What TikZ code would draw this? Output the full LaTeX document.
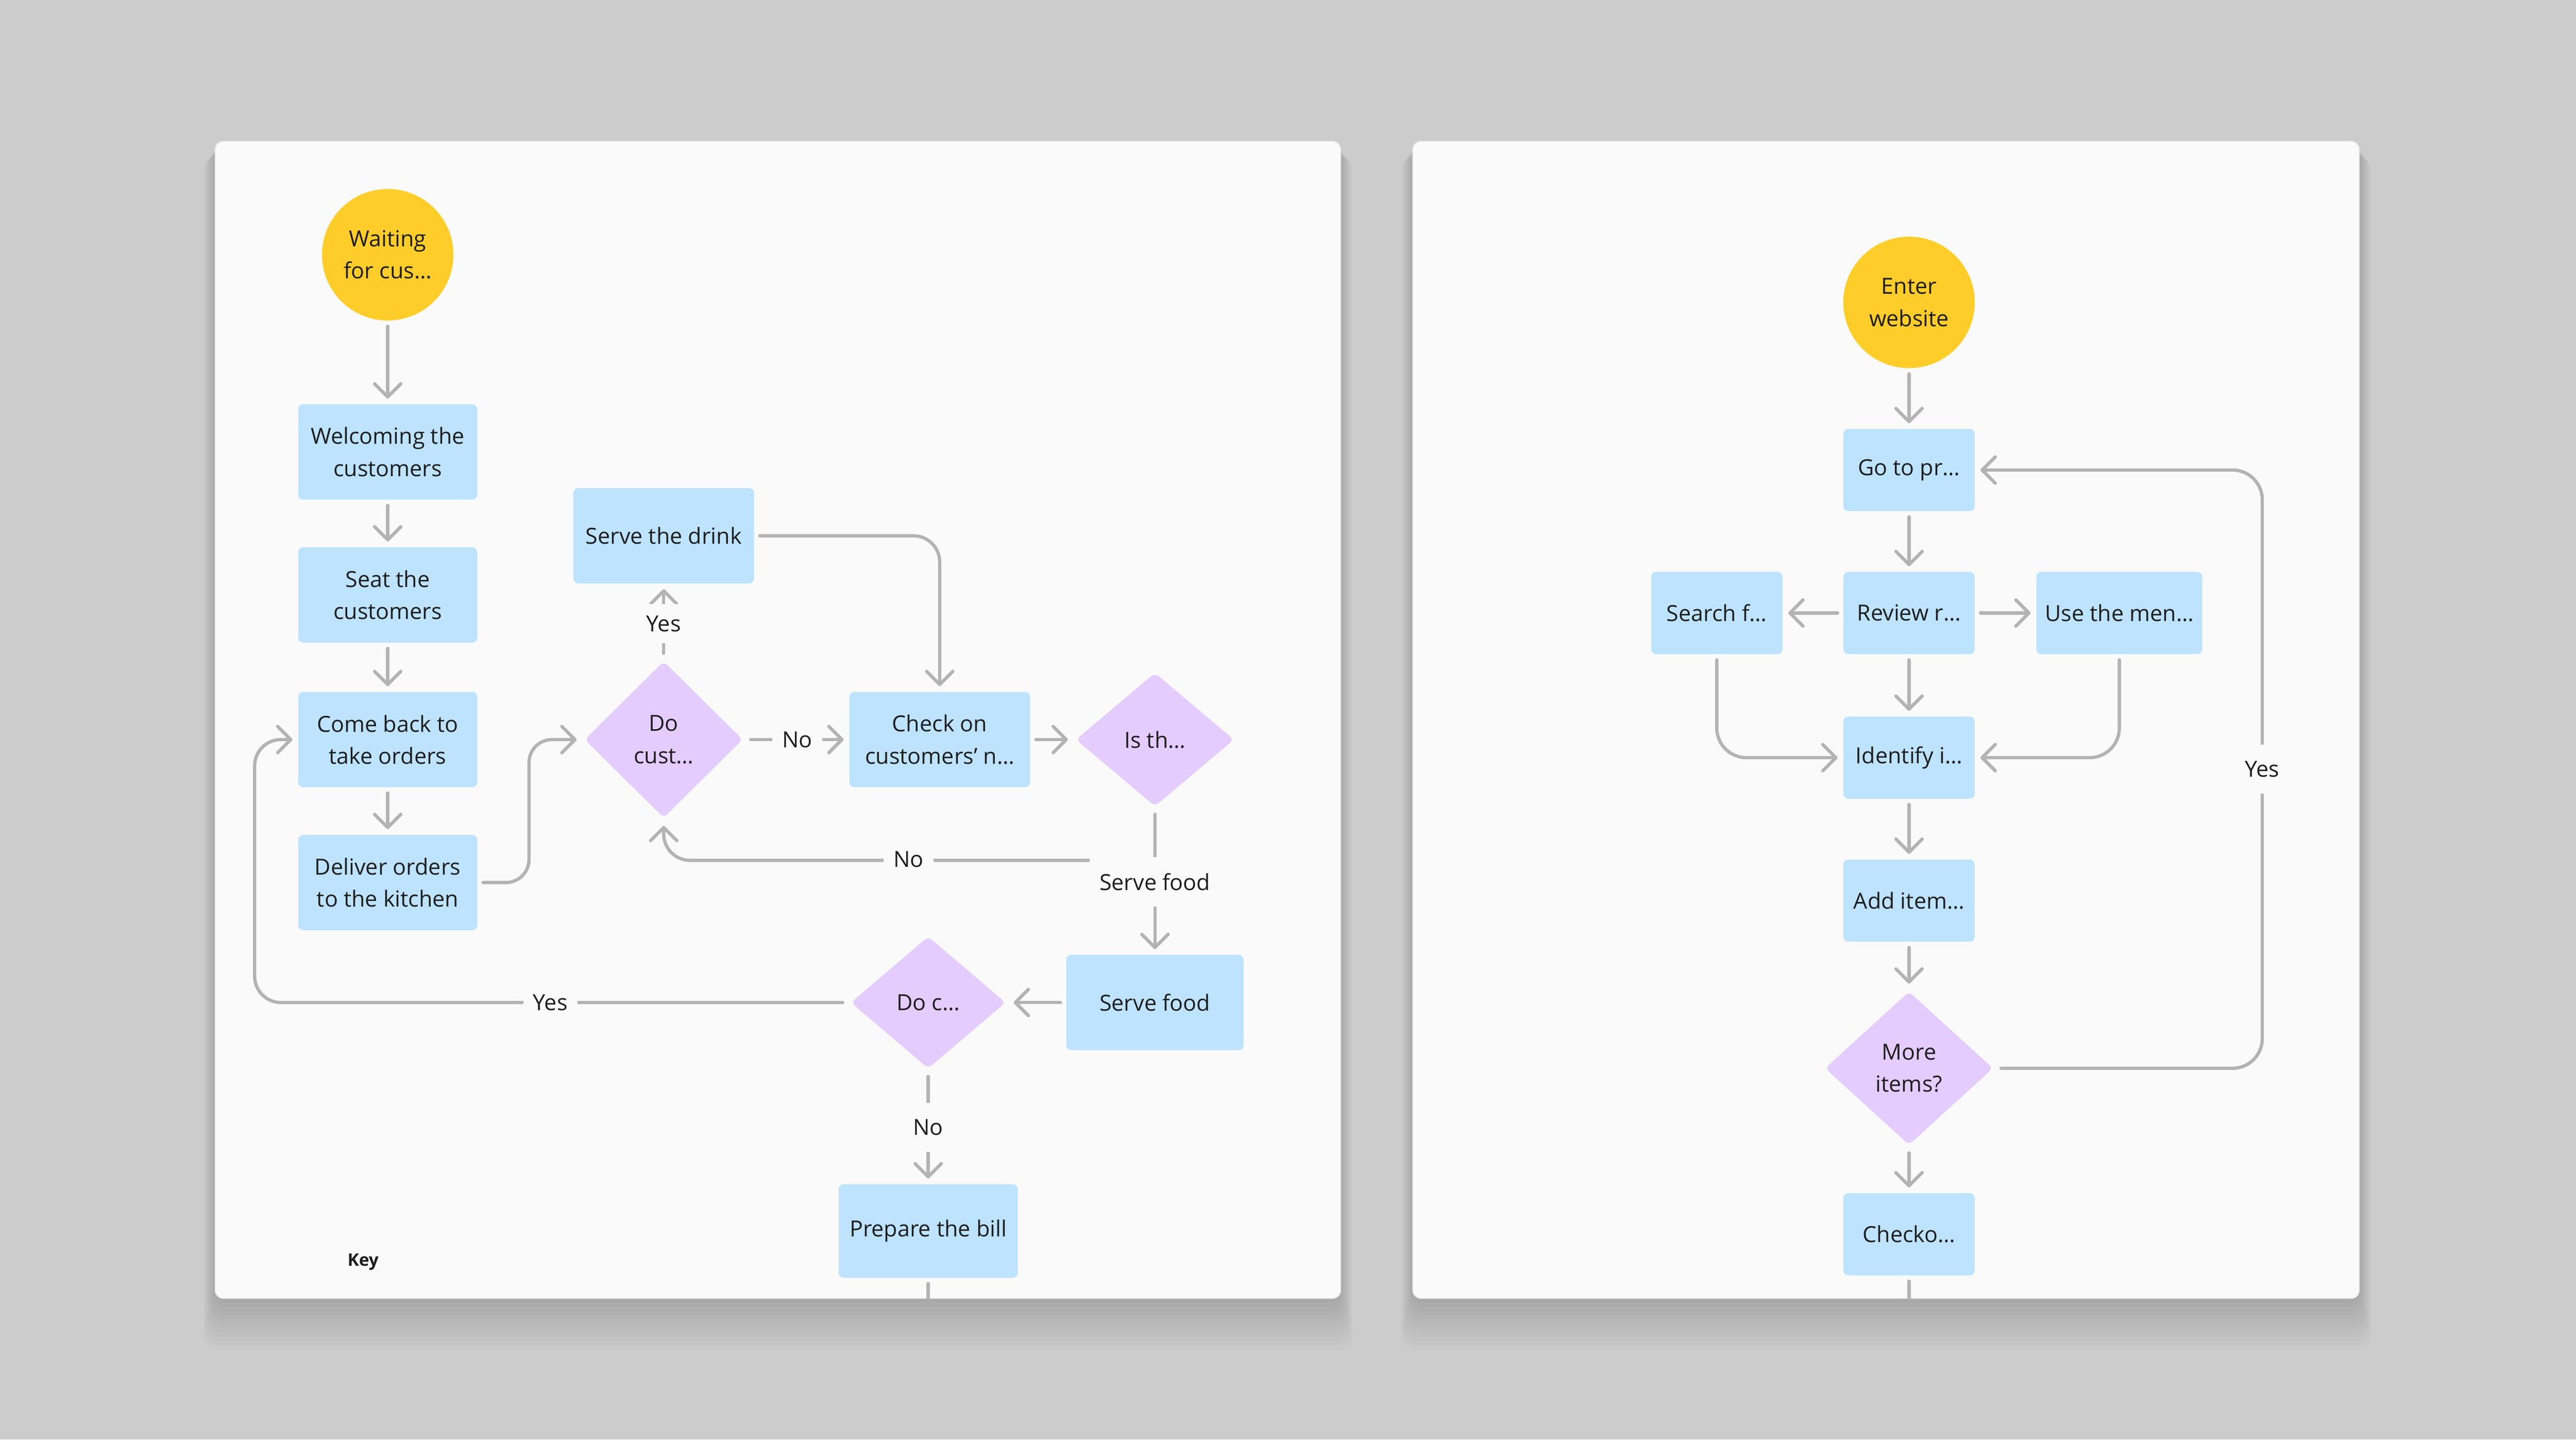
\documentclass[tikz,border=0pt]{standalone}
\usepackage{fontspec}
\setmainfont{Open Sans}
\usetikzlibrary{shapes.geometric,arrows.meta}
\definecolor{bgc}{HTML}{CCCCCC}
\definecolor{panelc}{HTML}{FAFAFA}
\definecolor{yel}{HTML}{FFCD29}
\definecolor{boxc}{HTML}{BDE3FF}
\definecolor{dia}{HTML}{E4CCFF}
\definecolor{linec}{HTML}{B3B3B3}
\definecolor{txt}{HTML}{1E1E1E}
\begin{document}
\begin{tikzpicture}[x=1pt,y=-1pt,
 every node/.style={font=\fontsize{13.5}{19.5}\selectfont, text=txt},
 startc/.style={circle, fill=yel, minimum size=80pt, inner sep=0pt, align=center, outer sep=3.5pt},
 procbox/.style={rectangle, rounded corners=3pt, fill=boxc, align=center, inner sep=0pt, outer sep=3.5pt},
 decide/.style={diamond, rounded corners=3pt, fill=dia, align=center, inner sep=0pt, outer sep=3.5pt},
 conn/.style={draw=linec, line width=2pt, line cap=round, line join=round, -{Straight Barb[length=8pt,width=16pt,round]}},
 plainline/.style={draw=linec, line width=2pt, line cap=round},
 lbl/.style={fill=panelc, inner xsep=6pt, inner ysep=0pt, minimum height=30pt},
]
\useasboundingbox (0,0) rectangle (1568,876);
\fill[bgc] (0,0) rectangle (1568,876);
% shadows
\foreach \i in {1,...,12}{
  \fill[black, opacity=0.011, rounded corners=8pt] (131-\i*0.6,86+\i*0.8) rectangle (816+\i*0.6,790+\i*2.6);
  \fill[black, opacity=0.011, rounded corners=8pt] (860-\i*0.6,86+\i*0.8) rectangle (1436+\i*0.6,790+\i*2.6);
}
\fill[panelc, rounded corners=5pt, draw=black!8, line width=0.6pt] (131,86) rectangle (816,790);
\fill[panelc, rounded corners=5pt, draw=black!8, line width=0.6pt] (860,86) rectangle (1436,790);

% ---------- left panel nodes ----------
\node[startc] (wait) at (236,155) {Waiting\\for cus…};
\node[procbox, minimum width=109pt, minimum height=58pt] (welcome) at (236,275) {Welcoming the\\customers};
\node[procbox, minimum width=109pt, minimum height=58pt] (seat) at (236,362) {Seat the\\customers};
\node[procbox, minimum width=109pt, minimum height=58pt] (comeback) at (236,450) {Come back to\\take orders};
\node[procbox, minimum width=109pt, minimum height=58pt] (deliver) at (236,537) {Deliver orders\\to the kitchen};
\node[procbox, minimum width=110pt, minimum height=58pt] (drink) at (404,326) {Serve the drink};
\node[decide, minimum width=99pt, minimum height=98pt] (docust) at (404,450) {Do\\cust…};
\node[procbox, minimum width=110pt, minimum height=58pt] (checkon) at (572,450) {Check on\\customers’ n…};
\node[decide, minimum width=99pt, minimum height=84pt] (isth) at (703,450) {Is th…};
\node[procbox, minimum width=108pt, minimum height=58pt] (servefood) at (703,610) {Serve food};
\node[decide, minimum width=97pt, minimum height=83pt] (doc) at (565,610) {Do c…};
\node[procbox, minimum width=109pt, minimum height=57pt] (bill) at (565,749) {Prepare the bill};
\node[font=\fontsize{10.5}{12}\selectfont\bfseries] (key) at (221,768) {Key};
\coordinate (billend) at (565,790);

% ---------- left connectors ----------
\draw[conn] (wait.south) -- (welcome.north);
\draw[conn] (welcome.south) -- (seat.north);
\draw[conn] (seat.south) -- (comeback.north);
\draw[conn] (comeback.south) -- (deliver.north);
\draw[conn] (deliver.east) [rounded corners=14pt] -- ++(28,0) |- (docust.west);
\draw[conn] (docust.north) -- node[lbl, minimum height=24pt, yshift=-1.5pt] (yes1) {Yes} (drink.south);
\draw[conn] (docust.east) -- node[lbl] (no1) {No} (checkon.west);
\draw[conn] (drink.east) [rounded corners=16pt] -| (checkon.north);
\draw[conn] (checkon.east) -- (isth.west);
\draw[conn] (isth.south) -- ++(0,28) [rounded corners=16pt] -| (docust.south);
\node[lbl] (no2) at (553,523) {No};
\draw[conn] (isth.south) -- node[lbl] (sf) {Serve food} (servefood.north);
\draw[conn] (servefood.west) -- (doc.east);
\draw[conn] (doc.west) [rounded corners=16pt] -- ++(-358,0) |- (comeback.west);
\node[lbl] (yes2) at (335,610) {Yes};
\draw[conn] (doc.south) -- node[lbl] (no3) {No} (bill.north);
\draw[plainline] (bill.south) -- (billend);

% ---------- right panel nodes ----------
\node[startc] (enter) at (1162,184) {Enter\\website};
\node[procbox, minimum width=80pt, minimum height=50pt] (go) at (1162,286) {Go to pr…};
\node[procbox, minimum width=80pt, minimum height=50pt] (review) at (1162,373) {Review r…};
\node[procbox, minimum width=80pt, minimum height=50pt] (search) at (1045,373) {Search f…};
\node[procbox, minimum width=101pt, minimum height=50pt] (use) at (1290,373) {Use the men…};
\node[procbox, minimum width=80pt, minimum height=50pt] (identify) at (1162,461) {Identify i…};
\node[procbox, minimum width=80pt, minimum height=50pt] (add) at (1162,548) {Add item…};
\node[decide, minimum width=105pt, minimum height=96pt] (more) at (1162,650) {More\\items?};
\node[procbox, minimum width=80pt, minimum height=50pt] (checko) at (1162,751) {Checko…};
\coordinate (checkoend) at (1162,790);

% ---------- right connectors ----------
\draw[conn] (enter.south) -- (go.north);
\draw[conn] (go.south) -- (review.north);
\draw[conn] (review.west) -- (search.east);
\draw[conn] (review.east) -- (use.west);
\draw[conn] (review.south) -- (identify.north);
\draw[conn] (search.south) [rounded corners=18pt] |- (identify.west);
\draw[conn] (use.south) [rounded corners=18pt] |- (identify.east);
\draw[conn] (identify.south) -- (add.north);
\draw[conn] (add.south) -- (more.north);
\draw[conn] (more.south) -- (checko.north);
\draw[conn] (more.east) [rounded corners=18pt] -- ++(159,0) |- (go.east);
\node[lbl] (yes3) at (1377,468) {Yes};
\draw[plainline] (checko.south) -- (checkoend);
\end{tikzpicture}
\end{document}
